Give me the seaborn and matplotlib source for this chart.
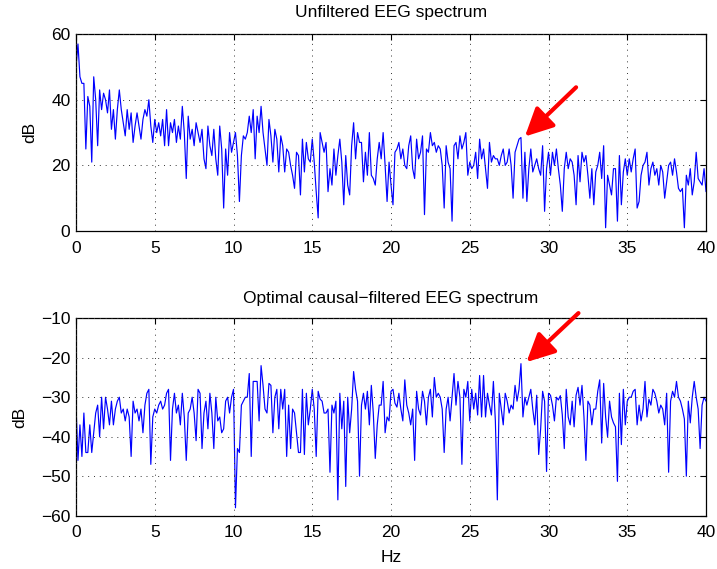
import numpy as np
import pandas as pd
import matplotlib
matplotlib.use("Agg")
import matplotlib.pyplot as plt
import seaborn as sns

# Spectrum samples, 0 to 40 Hz in 1/8 Hz steps (8 values per row = 1 Hz)
unfiltered_db = [
    50, 57, 47, 45, 45, 25, 41, 38,
    21, 47, 40, 26, 43, 37, 42, 40,
    36, 43, 31, 37, 28, 37, 43, 37,
    33, 29, 37, 31, 36, 27, 32, 36,
    32, 28, 34, 37, 35, 40, 32, 27,
    34, 30, 33, 29, 34, 26, 37, 26,
    33, 30, 34, 27, 32, 28, 38, 30,
    16, 35, 28, 31, 26, 33, 30, 27,
    31, 22, 19, 32, 26, 23, 31, 22,
    17, 32, 25, 7, 25, 17, 30, 24,
    27, 30, 23, 9, 23, 29, 28, 30,
    35, 30, 37, 22, 35, 30, 38, 30,
    25, 20, 34, 29, 21, 31, 28, 18,
    29, 26, 18, 25, 24, 20, 17, 13,
    24, 23, 11, 28, 18, 27, 22, 21,
    28, 21, 12, 4, 30, 27, 24, 27,
    12, 19, 14, 25, 17, 23, 28, 21,
    8, 23, 14, 11, 26, 33, 22, 30,
    27, 27, 15, 24, 17, 30, 17, 16,
    14, 22, 27, 22, 30, 20, 9, 21,
    14, 8, 24, 25, 27, 22, 25, 20,
    19, 26, 29, 19, 16, 28, 22, 24,
    29, 5, 25, 24, 30, 26, 27, 24,
    26, 25, 20, 7, 26, 21, 19, 3,
    26, 27, 22, 29, 25, 27, 30, 17,
    21, 19, 20, 24, 16, 28, 22, 25,
    19, 13, 27, 21, 23, 22, 22, 20,
    23, 25, 20, 21, 25, 20, 10, 24,
    26, 28, 28.5, 10, 24, 9, 19, 25,
    18, 20, 22, 19, 17, 26, 6, 19,
    24, 17, 24, 20, 25, 19, 14, 6,
    19, 24, 19, 22, 21, 17, 8, 23,
    15, 24, 21, 23, 17, 10, 19, 8,
    18, 20, 24, 16, 26, 1, 17, 14,
    11, 19, 19, 3, 23, 8, 18, 22,
    17, 22, 18, 22, 25, 7, 9, 17,
    20, 21, 24, 14, 19, 21, 17, 19,
    14, 20, 18, 10, 15, 20, 21, 17,
    22, 18, 13, 12, 13, 1, 17, 14,
    19, 11, 15, 24, 16, 15, 14, 19,
    12,
]

filtered_db = [
    -32, -46, -37, -45, -34, -44, -44, -37,
    -44, -39, -34, -32, -40, -30, -38, -30,
    -33, -37, -31, -37, -33, -31, -30, -34,
    -33, -36, -33, -35, -45, -31, -34, -33,
    -36, -33, -39, -32, -29, -28, -47, -35,
    -33, -34, -32, -31, -33, -32, -29, -28,
    -46, -33, -29, -34, -32, -37, -29, -35,
    -46, -34, -33, -30, -34, -41, -28, -29,
    -43, -34, -31, -38, -29, -34, -43, -30,
    -36, -35, -39, -38, -31, -30, -34, -30,
    -28, -58, -43, -44, -32, -31, -30, -30,
    -24, -45, -26, -26, -26, -36, -22, -27,
    -33, -34, -26.5, -27, -39, -30, -28, -38,
    -28, -33, -28, -45, -32, -43, -33, -34,
    -39, -44, -44, -28, -44.5, -29, -37, -33,
    -28, -33, -45, -28.5, -30.5, -31, -34, -34,
    -33, -49, -32, -34, -31, -56, -29, -38,
    -31, -52.6, -30, -39, -33, -23.5, -28, -31,
    -50, -32, -29, -33, -28.5, -37, -27, -34,
    -45.5, -37, -32, -32, -26, -39, -35, -36,
    -28.5, -28, -31.5, -32.5, -29, -33, -36, -25.6,
    -32, -34, -37, -33, -46, -28.5, -33, -34.5,
    -28.5, -31, -37, -30, -28, -35, -25, -30,
    -29, -30, -33, -44, -33, -30, -36, -30,
    -24, -32, -26, -30, -47, -28, -30, -26,
    -36, -28, -33, -29, -34.5, -24.5, -35, -24.5,
    -35, -29, -32, -34.5, -26, -36, -56, -29,
    -33, -37, -29, -31, -34, -32, -33, -27,
    -31, -28, -21.5, -35, -30, -32, -30, -28,
    -33, -37, -29.5, -44.5, -38, -28.5, -31, -48.8,
    -29, -29.5, -32, -36, -30, -30.7, -29.6, -34.5,
    -43, -28, -35, -37, -31, -37.5, -29.5, -27.5,
    -32, -27, -35, -46, -31, -32, -37, -33,
    -33, -28.5, -25.6, -41.6, -26.5, -35, -40, -31,
    -35, -36.5, -37.5, -51.3, -29, -42, -28, -37,
    -31, -30, -30, -28.5, -28, -37, -32, -36,
    -33, -26, -35, -30.5, -32, -28, -29, -31,
    -34, -32, -33, -37, -29, -49, -31, -28.5,
    -30, -26, -30, -31, -33, -35.5, -50, -31,
    -36.5, -30, -26, -30, -33, -43, -32, -30,
    -31,
]

freq_hz = np.linspace(0, 40, len(unfiltered_db))

titles = ["Unfiltered EEG spectrum", "Optimal causal\u2212filtered EEG spectrum"]
x_ticks = [0, 5, 10, 15, 20, 25, 30, 35, 40]
top_y_ticks = [0, 20, 40, 60]
bottom_y_ticks = [-60, -50, -40, -30, -20, -10]

# arrow (tail, tip) marking the 28 Hz peak in each panel
top_arrow = ((31.75, 43.8), (28.5, 28.8))
bottom_arrow = ((31.9, -8.7), (28.6, -21.1))

sns.set_style("white")
plt.rcParams.update({
    "font.family": ["Liberation Sans", "DejaVu Sans"],
    "font.size": 12.5,
    "axes.edgecolor": "black",
    "axes.linewidth": 0.9,
    "xtick.direction": "in",
    "ytick.direction": "in",
    "xtick.top": True,
    "ytick.right": True,
    "xtick.major.size": 4,
    "ytick.major.size": 4,
    "xtick.major.width": 0.8,
    "ytick.major.width": 0.8,
    "xtick.color": "black",
    "ytick.color": "black",
    "xtick.labelsize": 12.5,
    "ytick.labelsize": 12.5,
    "xtick.major.pad": 7,
    "ytick.major.pad": 4,
    "text.color": "black",
    "axes.labelcolor": "black",
})

fig = plt.figure(figsize=(7.17, 5.69), dpi=100)
ax_top = fig.add_axes([0.106, 0.594, 0.8787, 0.346])
ax_bot = fig.add_axes([0.106, 0.0937, 0.8787, 0.347])

df_top = pd.DataFrame({"Hz": freq_hz, "dB": unfiltered_db})
df_bot = pd.DataFrame({"Hz": freq_hz, "dB": filtered_db})

sns.lineplot(data=df_top, x="Hz", y="dB", ax=ax_top, color="#0000ff",
             linewidth=0.85, estimator=None, sort=False)
sns.lineplot(data=df_bot, x="Hz", y="dB", ax=ax_bot, color="#0000ff",
             linewidth=0.85, estimator=None, sort=False)

grid_kw = dict(color="#333333", linestyle=(0, (1, 5)), linewidth=0.7)

for ax, title, yticks, ylim, arrow, pad, ylpad in [
    (ax_top, titles[0], top_y_ticks, (0, 60), top_arrow, 12, 10),
    (ax_bot, titles[1], bottom_y_ticks, (-60, -10), bottom_arrow, 11, 10),
]:
    ax.set_xlim(0, 40)
    ax.set_ylim(*ylim)
    ax.set_xticks(x_ticks)
    ax.set_yticks(yticks)
    ax.grid(True, **grid_kw)
    ax.set_axisbelow(False)
    for s in ax.spines.values():
        s.set_visible(True)
        s.set_color("black")
    ax.set_title(title, fontsize=12.5, pad=pad)
    ax.set_ylabel("dB", fontsize=12.5, labelpad=ylpad)
    ax.set_xlabel("")
    ax.annotate("", xy=arrow[1], xytext=arrow[0],
                arrowprops=dict(arrowstyle="-|>,head_length=0.85,head_width=0.42",
                                color="#ff0000", lw=3.0, mutation_scale=20,
                                shrinkA=0, shrinkB=0, capstyle="round"),
                annotation_clip=False)

ax_bot.set_xlabel("Hz", fontsize=12.5, labelpad=7)

fig.savefig("out.png", dpi=100)
